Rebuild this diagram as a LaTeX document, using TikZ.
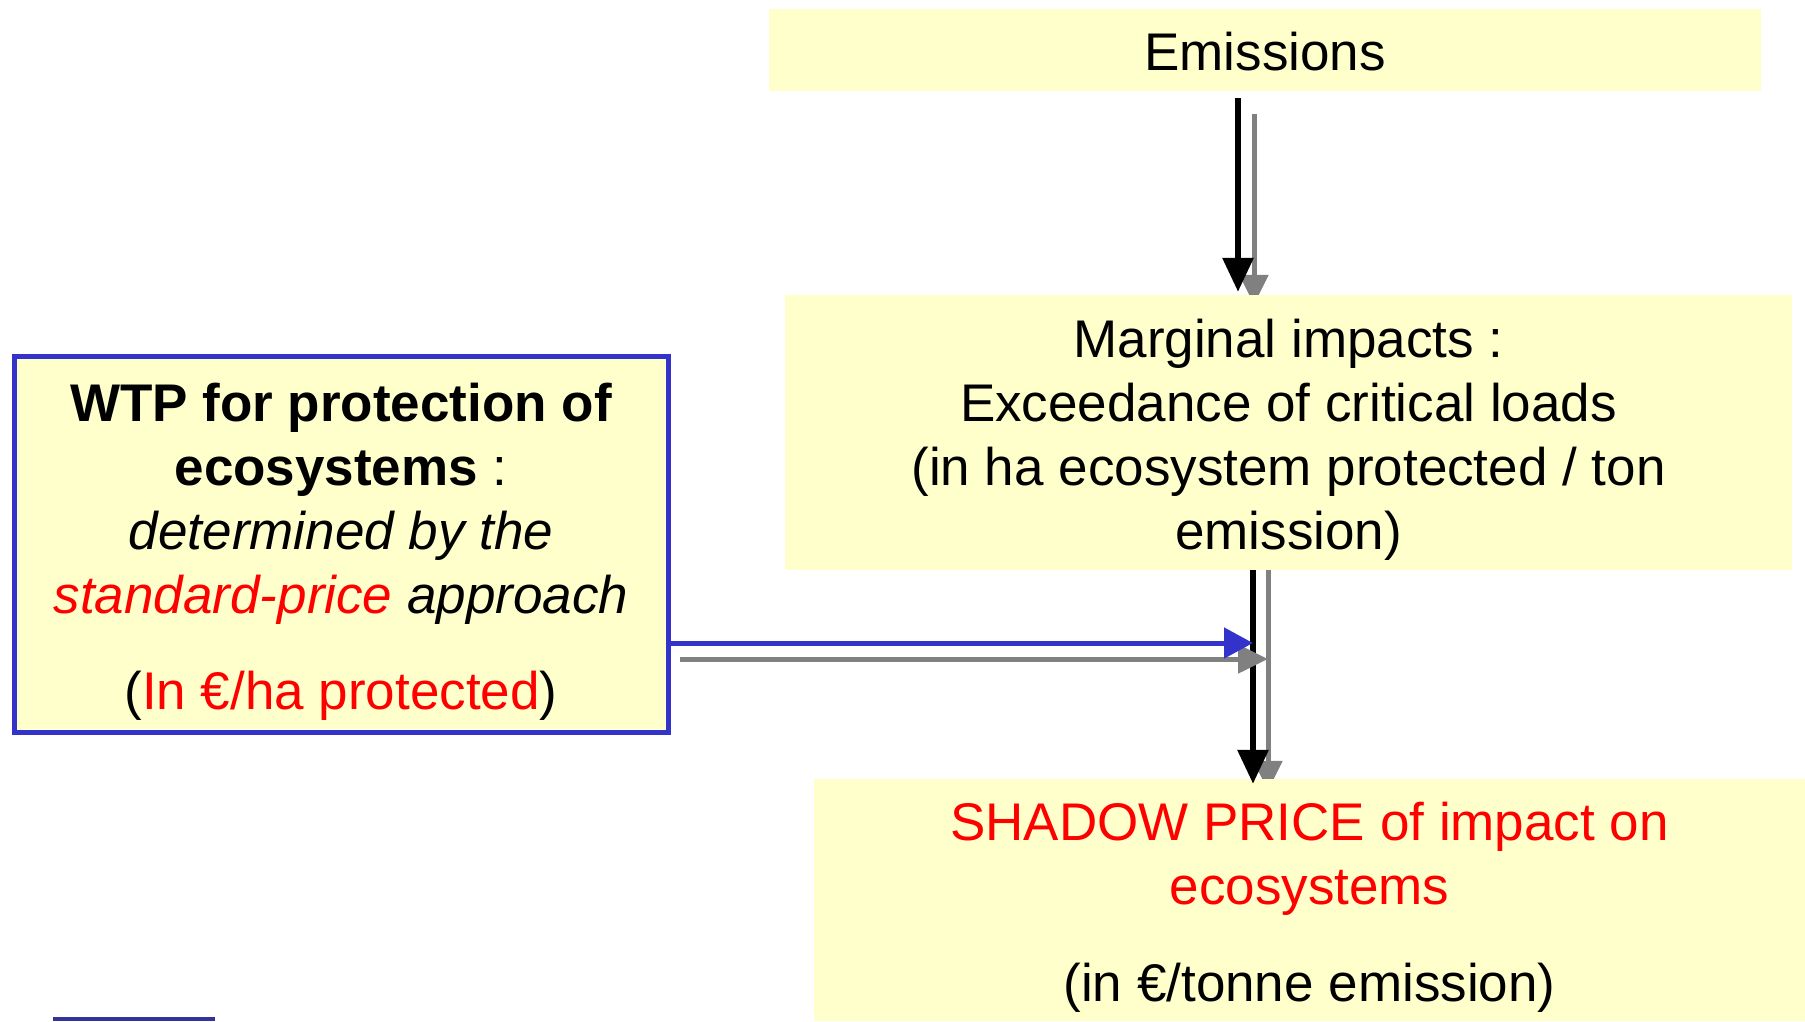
\documentclass[tikz,border=0pt]{standalone}
\usepackage{fontspec}
\setmainfont{Liberation Sans}
\usetikzlibrary{arrows.meta}
\definecolor{boxfill}{HTML}{FFFFCC}
\definecolor{wtpblue}{HTML}{3333CC}
\definecolor{rulerblue}{HTML}{333399}
\definecolor{flowgray}{HTML}{808080}
\definecolor{hotred}{HTML}{FF0000}
\tikzset{
  every node/.style={font=\fontsize{53}{64}\selectfont, align=center, inner sep=0pt},
  yellowbox/.style={fill=boxfill, draw=none},
  boxtext/.style={yshift=-7pt},
  blkflow/.style={draw=black, line width=6pt, -{Triangle[length=34pt,width=30pt]}},
  grayflow/.style={draw=flowgray, line width=5pt, -{Triangle[length=30pt,width=28pt]}},
  blueflow/.style={draw=wtpblue, line width=5pt, -{Triangle[length=29pt,width=30pt]}},
}
\begin{document}
\begin{tikzpicture}[x=1pt,y=-1pt]
\useasboundingbox (0,0) rectangle (1805,1021);

% guide columns / rows for the flow lines
\coordinate (colA) at (1238,0);
\coordinate (colB) at (1254,0);
\coordinate (colC) at (1253,0);
\coordinate (colD) at (1268,0);
\coordinate (rowBlue) at (0,643);
\coordinate (rowGray) at (0,659);

% gray flows sit beneath the yellow boxes
\node[minimum width=992pt, minimum height=82pt] (emis) at (1265,50) {};
\node[minimum width=1007pt, minimum height=275pt] (marg) at (1288.5,432.5) {};
\node[minimum width=991pt, minimum height=242pt] (shadow) at (1309.5,900) {};
\draw[grayflow, shorten <=23pt, shorten >=-10pt] (emis.south -| colB) -- (marg.north -| colB);
\draw[grayflow, shorten >=-12pt] (marg.south -| colD) -- (shadow.north -| colD);

% yellow boxes
\node[yellowbox, minimum width=992pt, minimum height=82pt] (emisBox) at (emis) {};
\node[yellowbox, minimum width=1007pt, minimum height=275pt] (margBox) at (marg) {};
\node[yellowbox, minimum width=991pt, minimum height=242pt] (shadowBox) at (shadow) {};
\node[fill=boxfill, draw=wtpblue, line width=5pt, minimum width=654pt, minimum height=376pt] (wtp) at (341,544.5) {};

% box texts
\node[yshift=-2pt] (emisText) at (emis) {Emissions};
\node[boxtext] (margText) at (marg)
  {Marginal impacts :\\Exceedance of critical loads\\(in ha ecosystem protected / ton\\emission)};
\node[boxtext] (shadowText) at (shadow)
  {\textcolor{hotred}{SHADOW PRICE of impact on}\\\textcolor{hotred}{ecosystems}\\[33pt](in €/tonne emission)};
\node[boxtext] (wtpText) at (wtp)
  {\textbf{WTP for protection of}\\\textbf{ecosystems} :\\\textit{determined by the}\\
   \textit{\textcolor{hotred}{standard-price} approach}\\[32pt]
   (\textcolor{hotred}{In €/ha protected})};

% black and blue flows on top
\draw[blkflow, shorten <=7pt, shorten >=3pt] (emis.south -| colA) -- (marg.north -| colA);
\draw[blkflow, shorten >=-5pt] (marg.south -| colC) -- (shadow.north -| colC);
\draw[grayflow, shorten <=9pt] (wtp.east |- rowGray) -- (colD |- rowGray);
\draw[blueflow] (wtp.east |- rowBlue) -- (colC |- rowBlue);

% short rule at the lower left edge
\fill[rulerblue] (53,1017) rectangle (215,1021);
\end{tikzpicture}
\end{document}
